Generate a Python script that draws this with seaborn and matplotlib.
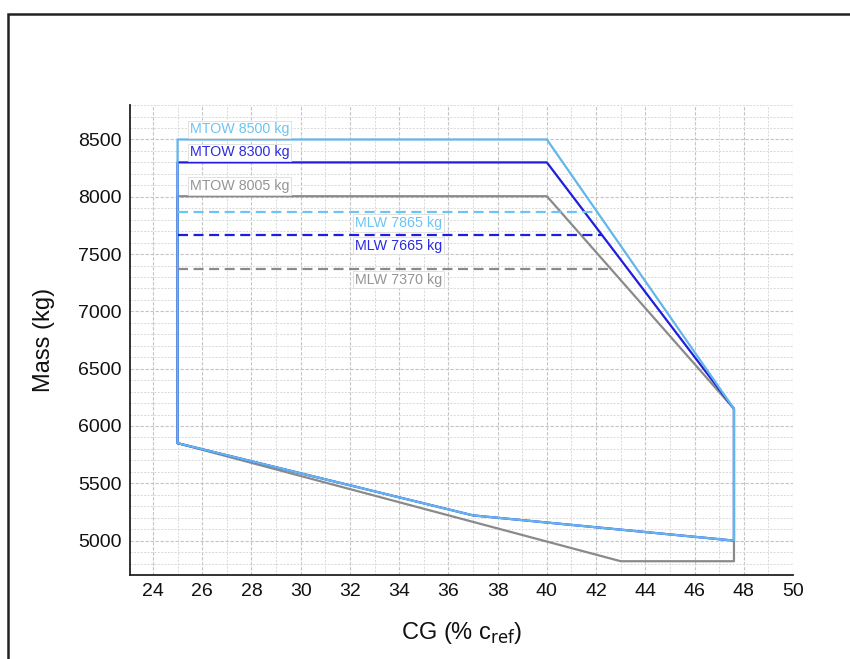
"""
CG envelope (mass vs centre of gravity) for three MTOW variants.
"""

import numpy as np
import matplotlib.pyplot as plt
import seaborn as sns
from matplotlib.patches import Rectangle
from matplotlib.ticker import MultipleLocator


# -----------------------------------
# Data
# -----------------------------------

# envelope corners (CG in % c_ref, mass in kg)
cg_8005 = [25, 25, 40, 47.6, 47.6, 43, 25]
mass_8005 = [5850, 8005, 8005, 6150, 4820, 4820, 5850]

cg_8300 = [25, 25, 40, 47.6, 47.6, 37, 25]
mass_8300 = [5850, 8300, 8300, 6150, 5000, 5220, 5850]

cg_8500 = [25, 25, 40, 47.6, 47.6, 37, 25]
mass_8500 = [5850, 8500, 8500, 6150, 5000, 5220, 5850]

mtow = [8500, 8300, 8005]
mlw = [7865, 7665, 7370]
mtow_labels = ["MTOW 8500 kg", "MTOW 8300 kg", "MTOW 8005 kg"]
mlw_labels = ["MLW 7865 kg", "MLW 7665 kg", "MLW 7370 kg"]

line_colors = ["#62B6EC", "#1E1EDC", "#8A8A8A"]
dash_colors = ["#6CC4F4", "#1E1EDC", "#8A8A8A"]
text_colors = ["#6CC4F4", "#2A2AE0", "#959595"]

x_ticks = list(range(24, 51, 2))
y_ticks = list(range(5000, 8501, 500))


# -----------------------------------
# Plot
# -----------------------------------

sns.set_style("white")
plt.rcParams["font.family"] = ["Liberation Sans", "DejaVu Sans"]

fig = plt.figure(figsize=(8.5, 6.59), dpi=100)
ax = fig.add_axes([0.153, 0.1275, 0.78, 0.713])

# grid
ax.xaxis.set_major_locator(MultipleLocator(2))
ax.xaxis.set_minor_locator(MultipleLocator(1))
ax.yaxis.set_major_locator(MultipleLocator(500))
ax.yaxis.set_minor_locator(MultipleLocator(100))
ax.grid(which="major", color="#c4c4c4", linestyle=(0, (3, 1.5)), linewidth=0.8)
ax.grid(which="minor", color="#d8d8d8", linestyle=(0, (2, 1.5)), linewidth=0.7)
ax.set_axisbelow(True)

# envelopes: gray below, light blue on top
envelopes = [
    (cg_8005, mass_8005, line_colors[2]),
    (cg_8300, mass_8300, line_colors[1]),
    (cg_8500, mass_8500, line_colors[0]),
]
for cg, mass, col in envelopes:
    sns.lineplot(x=cg, y=mass, sort=False, estimator=None,
                 color=col, linewidth=1.6, ax=ax)

# MLW dashed lines end on the aft descending edge of their envelope
for i, m in enumerate(mlw):
    x_end = np.interp(m, [6150, mtow[i]], [47.6, 40])
    ax.plot([25, x_end], [m, m], color=dash_colors[i],
            linestyle=(0, (4.5, 2.5)), linewidth=1.6)

box = dict(boxstyle="square,pad=0.12", facecolor="white",
           edgecolor="#dddddd", linewidth=0.6)

for i, m in enumerate(mtow):
    ax.text(25.5, m + 88, mtow_labels[i], color=text_colors[i],
            fontsize=10.3, va="center", ha="left", bbox=box)

for i, m in enumerate(mlw):
    ax.text(32.2, m - 92, mlw_labels[i], color=text_colors[i],
            fontsize=10.3, va="center", ha="left", bbox=box)

ax.set_xlim(23.07, 50)
ax.set_ylim(4700, 8800)
ax.set_xticks(x_ticks)
ax.set_yticks(y_ticks)
ax.tick_params(axis="both", which="both", length=0, labelsize=14,
               pad=6, labelcolor="#111111")

ax.set_xlabel(r"CG (% c$_{\mathrm{ref}}$)", fontsize=17, labelpad=14,
              color="#111111")
ax.set_ylabel("Mass (kg)", fontsize=17, labelpad=17, color="#111111")

sns.despine(ax=ax)
for side in ["left", "bottom"]:
    ax.spines[side].set_color("#222222")
    ax.spines[side].set_linewidth(1.3)

# frame around the figure (cut off at right and bottom)
fig.patches.append(Rectangle((8 / 850, -0.2), 1.2, 1.2 - 14 / 659,
                             transform=fig.transFigure, fill=False,
                             edgecolor="#222222", linewidth=1.8))

plt.savefig("out.png", dpi=100)
plt.close()
